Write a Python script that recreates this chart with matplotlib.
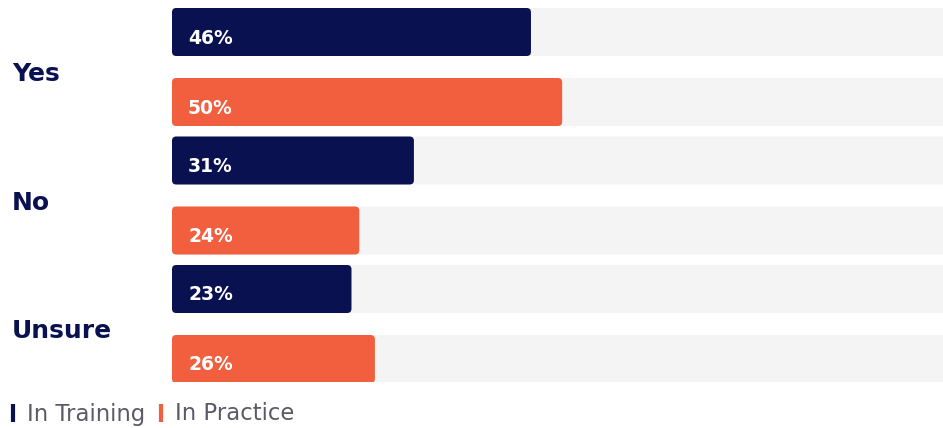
import matplotlib.pyplot as plt
from matplotlib.patches import FancyBboxPatch
from matplotlib.lines import Line2D

categories = ['Yes', 'No', 'Unsure']
in_training = [46, 31, 23]
in_practice = [50, 24, 26]
series_names = ['In Training', 'In Practice']

navy = '#0a1150'
orange = '#f15f3e'
track = '#f4f4f4'

W, H = 943, 428
fig = plt.figure(figsize=(W / 100, H / 100), dpi=100)
# axes in pixel terms: x from 172 to right edge, y from 8 to 382
ax = fig.add_axes([172 / W, 1 - 382 / H, 1 - 172 / W, 374 / H])
xmax = 98.8
ax.set_xlim(0, xmax)
ax.set_ylim(374, 0)
ax.axis('off')

px_per_unit = (W - 172) / xmax
bar_h = 48
group_step = 128.5
inner_step = 70

for i, cat in enumerate(categories):
    y0 = i * group_step
    for j, (val, col) in enumerate([(in_training[i], navy), (in_practice[i], orange)]):
        y = y0 + j * inner_step
        # background track
        ax.add_patch(FancyBboxPatch((0, y), xmax + 2, bar_h,
                                    boxstyle='round,pad=0,rounding_size=0.01',
                                    mutation_aspect=px_per_unit,
                                    fc=track, ec='none', zorder=1))
        ax.add_patch(FancyBboxPatch((0, y), val, bar_h,
                                    boxstyle='round,pad=0,rounding_size=0.55',
                                    mutation_aspect=px_per_unit,
                                    fc=col, ec='none', zorder=2))
        ax.text(16 / px_per_unit, y + bar_h / 2 + 6, f'{val}%', color='white',
                fontsize=13.5, fontweight='bold', va='center', ha='left', zorder=3)
    # category label
    ax.text(-160 / px_per_unit, y0 + (inner_step + bar_h) / 2 + 7, cat,
            color=navy, fontsize=18, fontweight='bold', va='center', ha='left',
            clip_on=False)

handles = [Line2D([], [], color=navy, marker='|', linestyle='None',
                  markersize=13, markeredgewidth=3),
           Line2D([], [], color=orange, marker='|', linestyle='None',
                  markersize=13, markeredgewidth=3)]
leg = fig.legend(handles, series_names, loc='center left',
                 bbox_to_anchor=(2 / W, 1 - 414 / H), ncol=2, frameon=False,
                 borderpad=0, borderaxespad=0,
                 handlelength=1.0, handletextpad=0.1, columnspacing=0.2,
                 fontsize=16.4)
for t in leg.get_texts():
    t.set_color('#5a5a66')

fig.savefig('out.png', dpi=100)
